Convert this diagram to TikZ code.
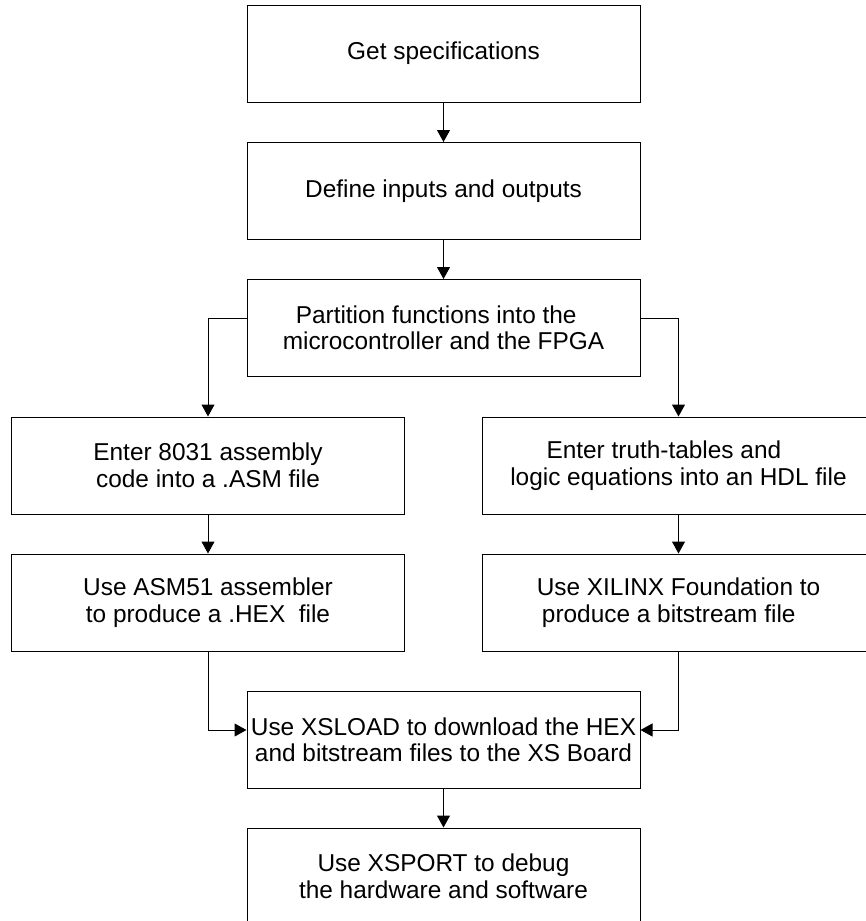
\documentclass[tikz,border=0pt]{standalone}
\usepackage{fontspec}
\setmainfont{Liberation Sans}
\usetikzlibrary{arrows.meta}
\begin{document}
\begin{tikzpicture}[x=1pt,y=-1pt,
  box/.style={draw=black,line width=1pt,minimum width=393pt,minimum height=97pt,
    inner sep=0pt,align=center,font=\fontsize{24.4}{26.5}\selectfont},
  arr/.style={draw=black,line width=1pt,-{Triangle[width=13pt,length=12pt]}}]
\useasboundingbox (0,0) rectangle (866,921);
\clip (0,0) rectangle (866,921);
\node[box] (b1) at (443.5,53.5) {Get specifications};
\node[box] (b2) at (443.5,191) {Define inputs and outputs};
\node[box] (b3) at (443.5,328) {Partition functions into the\hspace*{0.6em}\\microcontroller and the FPGA};
\node[box] (l1) at (208,465.5) {Enter 8031 assembly\\code into a .ASM file};
\node[box] (l2) at (208,602.5) {Use ASM51 assembler\\to produce a .HEX\ \ file};
\node[box] (r1) at (678.5,465.5) {Enter truth-tables and\hspace*{1.2em}\\logic equations into an HDL file};
\node[box] (r2) at (678.5,602.5) {Use XILINX Foundation to\\produce a bitstream file\hspace*{0.8em}};
\node[box] (b6) at (443.5,740) {Use XSLOAD to download the HEX\\and bitstream files to the XS Board};
\node[box] (b7) at (443.5,876.5) {Use XSPORT to debug\\the hardware and software};
\draw[arr] (b1) -- (b2);
\draw[arr] (b2) -- (b3);
\draw[arr] ([yshift=10pt]b3.west) -| (l1.north);
\draw[arr] ([yshift=10pt]b3.east) -| (r1.north);
\draw[arr] (l1) -- (l2);
\draw[arr] (r1) -- (r2);
\draw[arr] (l2.south) |- ([yshift=10pt]b6.west);
\draw[arr] (r2.south) |- ([yshift=10pt]b6.east);
\draw[arr] (b6) -- (b7);
\end{tikzpicture}
\end{document}
